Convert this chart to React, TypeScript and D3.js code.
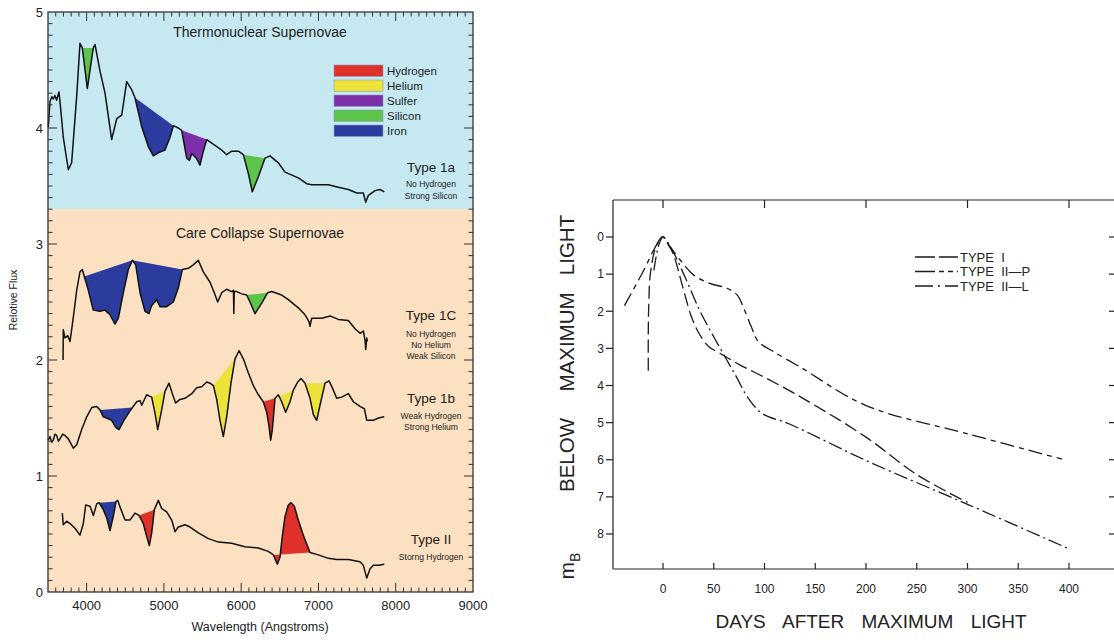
import React from 'react';
import * as d3 from 'd3';

// ---------- Left chart data ----------
const wavelengthTicks = [4000, 5000, 6000, 7000, 8000, 9000];
const fluxTicks = [0, 1, 2, 3, 4, 5];
const elements = ['Hydrogen', 'Helium', 'Sulfer', 'Silicon', 'Iron'];
const elementColors = ['#e0302a', '#ece23a', '#7b2fa8', '#5cc44a', '#2c3c9e'];

const type1a: [number, number][] = [
  [3504, 4.01], [3526, 4.23], [3550, 4.27], [3569, 4.25], [3590, 4.28], [3612, 4.24], [3642, 4.31], [3655, 4.23],
  [3698, 3.92], [3763, 3.64], [3806, 3.70], [3871, 4.27], [3914, 4.73], [3944, 4.69], [4009, 4.34], [4086, 4.69],
  [4108, 4.72], [4173, 4.49], [4238, 4.30], [4324, 3.90], [4389, 4.08], [4454, 4.11], [4518, 4.40], [4583, 4.33],
  [4626, 4.26], [4713, 4.01], [4798, 3.84], [4863, 3.76], [4940, 3.79], [5014, 3.81], [5079, 3.92], [5122, 4.02],
  [5186, 4.00], [5230, 3.98], [5295, 3.74], [5330, 3.72], [5360, 3.78], [5420, 3.74], [5467, 3.68], [5510, 3.80],
  [5554, 3.90], [5661, 3.85], [5748, 3.81], [5812, 3.77], [5877, 3.80], [5963, 3.80], [6028, 3.77], [6092, 3.61],
  [6144, 3.45], [6222, 3.58], [6308, 3.74], [6373, 3.76], [6481, 3.70], [6567, 3.62], [6739, 3.57], [6848, 3.52],
  [6913, 3.51], [7128, 3.51], [7257, 3.49], [7387, 3.47], [7495, 3.44], [7581, 3.44], [7612, 3.36], [7646, 3.42],
  [7732, 3.46], [7797, 3.47], [7852, 3.45],
];

const type1c: [number, number][] = [
  [3695, 2.00], [3698, 2.26], [3720, 2.19], [3755, 2.21], [3785, 2.16], [3828, 2.37], [3871, 2.60], [3914, 2.76],
  [3944, 2.78], [3970, 2.72], [4022, 2.60], [4086, 2.43], [4173, 2.42], [4238, 2.43], [4302, 2.39], [4367, 2.31],
  [4410, 2.36], [4475, 2.58], [4540, 2.78], [4592, 2.86], [4635, 2.82], [4691, 2.58], [4755, 2.42], [4807, 2.40],
  [4842, 2.47], [4906, 2.52], [4949, 2.46], [5036, 2.46], [5122, 2.50], [5186, 2.62], [5238, 2.78], [5316, 2.79],
  [5380, 2.82], [5445, 2.86], [5510, 2.76], [5597, 2.67], [5652, 2.58], [5696, 2.50], [5748, 2.58], [5812, 2.61],
  [5877, 2.59], [5900, 2.60], [5905, 2.40], [5910, 2.59], [5942, 2.59], [6007, 2.57], [6071, 2.56], [6114, 2.50],
  [6179, 2.40], [6266, 2.49], [6343, 2.58], [6395, 2.59], [6524, 2.56], [6610, 2.52], [6739, 2.45], [6826, 2.39],
  [6878, 2.33], [6890, 2.29], [6913, 2.36], [7042, 2.36], [7150, 2.38], [7257, 2.35], [7387, 2.34], [7473, 2.27],
  [7538, 2.23], [7581, 2.25], [7603, 2.17], [7612, 2.09], [7625, 2.19], [7633, 2.16],
];

const type1b: [number, number][] = [
  [3500, 1.31], [3526, 1.34], [3547, 1.29], [3569, 1.31], [3590, 1.36], [3612, 1.35], [3635, 1.30], [3655, 1.32],
  [3690, 1.36], [3720, 1.35], [3763, 1.32], [3828, 1.24], [3871, 1.27], [3936, 1.40], [4001, 1.51], [4066, 1.59],
  [4130, 1.60], [4173, 1.57], [4216, 1.51], [4259, 1.50], [4324, 1.48], [4376, 1.42], [4419, 1.40], [4475, 1.47],
  [4540, 1.54], [4592, 1.59], [4648, 1.64], [4691, 1.65], [4713, 1.61], [4777, 1.70], [4842, 1.68], [4885, 1.54],
  [4920, 1.40], [4971, 1.57], [5014, 1.73], [5066, 1.80], [5109, 1.71], [5152, 1.63], [5208, 1.66], [5273, 1.67],
  [5360, 1.71], [5424, 1.76], [5489, 1.77], [5554, 1.81], [5597, 1.80], [5640, 1.78], [5683, 1.66], [5726, 1.48],
  [5769, 1.34], [5812, 1.51], [5868, 1.80], [5920, 2.01], [5972, 2.08], [6028, 2.01], [6092, 1.89], [6157, 1.78],
  [6222, 1.70], [6286, 1.64], [6330, 1.55], [6360, 1.43], [6382, 1.31], [6403, 1.40], [6438, 1.67], [6481, 1.70],
  [6524, 1.64], [6576, 1.55], [6632, 1.64], [6675, 1.74], [6731, 1.81], [6774, 1.84], [6826, 1.80], [6891, 1.67],
  [6934, 1.53], [6977, 1.48], [7020, 1.61], [7085, 1.80], [7137, 1.82], [7180, 1.76], [7236, 1.67], [7300, 1.68],
  [7387, 1.71], [7452, 1.64], [7538, 1.60], [7594, 1.58], [7625, 1.48], [7711, 1.48], [7775, 1.50], [7852, 1.51],
];

const type2: [number, number][] = [
  [3685, 0.68], [3698, 0.58], [3741, 0.61], [3785, 0.59], [3849, 0.55], [3914, 0.49], [3957, 0.59], [3988, 0.75],
  [4044, 0.74], [4087, 0.66], [4130, 0.76], [4160, 0.77], [4216, 0.71], [4259, 0.64], [4302, 0.53], [4345, 0.65],
  [4380, 0.78], [4402, 0.79], [4445, 0.71], [4497, 0.62], [4561, 0.62], [4626, 0.68], [4678, 0.66], [4733, 0.59],
  [4777, 0.48], [4811, 0.40], [4842, 0.51], [4876, 0.71], [4928, 0.79], [4971, 0.72], [5036, 0.69], [5101, 0.62],
  [5144, 0.52], [5186, 0.56], [5273, 0.58], [5338, 0.56], [5446, 0.51], [5575, 0.46], [5704, 0.43], [5877, 0.42],
  [6049, 0.39], [6222, 0.38], [6351, 0.35], [6416, 0.32], [6468, 0.24], [6502, 0.30], [6532, 0.48], [6567, 0.65],
  [6610, 0.75], [6645, 0.77], [6688, 0.74], [6739, 0.62], [6804, 0.49], [6891, 0.34], [6998, 0.32], [7128, 0.29],
  [7236, 0.28], [7387, 0.28], [7538, 0.26], [7581, 0.23], [7625, 0.12], [7668, 0.20], [7711, 0.23], [7775, 0.23],
  [7852, 0.24],
];

// [from, to, element]
const type1aFeatures: [number, number, string][] = [[3944, 4086, 'Silicon'], [4626, 5122, 'Iron'], [5230, 5554, 'Sulfer'], [6028, 6308, 'Silicon']];
const type1cFeatures: [number, number, string][] = [[3970, 4592, 'Iron'], [4592, 5238, 'Iron'], [6071, 6343, 'Silicon']];
const type1bFeatures: [number, number, string][] = [[4173, 4592, 'Iron'], [4842, 5014, 'Helium'], [5640, 5920, 'Helium'], [6286, 6438, 'Hydrogen'], [6438, 6675, 'Helium'], [6826, 7085, 'Helium']];
const type2Features: [number, number, string][] = [[4160, 4380, 'Iron'], [4678, 4876, 'Hydrogen'], [6416, 6891, 'Hydrogen']];

const typeLabels = ['Type 1a', 'Type 1C', 'Type 1b', 'Type II'];
const typeNotes = [['No Hydrogen', 'Strong Silicon'], ['No Hydrogen', 'No Helium', 'Weak Silicon'], ['Weak Hydrogen', 'Strong Helium'], ['Storng Hydrogen']];

// ---------- Right chart data ----------
const dayTicks = [0, 50, 100, 150, 200, 250, 300, 350, 400];
const magTicks = [0, 1, 2, 3, 4, 5, 6, 7, 8];
const curveNames = ['TYPE  I', 'TYPE  II\u2014P', 'TYPE  II\u2014L'];
const yTitleWords = ['BELOW', 'MAXIMUM', 'LIGHT'];
const typeI: [number, number][] = [
  [-14.5, 3.6], [-14.5, 2.6], [-14, 1.8], [-12.5, 1.0], [-8, 0.35], [-3, 0.05], [0, 0], [5, 0.2], [10, 0.45], [20, 1.4],
  [28, 2.15], [36, 2.62], [45, 2.95], [56, 3.13], [76, 3.45], [100, 3.78], [135, 4.3], [200, 5.39], [250, 6.4], [300, 7.15],
];
const typeIIP: [number, number][] = [
  [-38, 1.85], [-20, 0.95], [-6, 0.2], [0, 0], [7, 0.26], [17, 0.62], [30, 1.02], [46, 1.25], [63, 1.38], [73, 1.56], [79, 1.88],
  [87, 2.42], [94, 2.82], [109, 3.09], [135, 3.5], [200, 4.54], [300, 5.3], [393, 5.98],
];
const typeIIL: [number, number][] = [
  [-9, 0.9], [-4, 0.2], [0, 0], [9, 0.35], [23, 1.16], [36, 1.97], [50, 2.69], [63, 3.32], [73, 3.8], [83, 4.3], [98, 4.76],
  [124, 5.03], [200, 6.02], [300, 7.2], [400, 8.4],
];
const curves = [typeI, typeIIP, typeIIL];
const curveDash = ['13,5', '14,5,5,5', '14,4,2,4'];
const legendDash = ['20,4,20', '20,4,5,4,5,4', '18,5,2,5,16'];

export default function App() {
  // left scales
  const x = d3.scaleLinear().domain([3500, 9000]).range([48, 473]);
  const y = d3.scaleLinear().domain([0, 5]).range([592, 12]);
  const yBand = y(3.3);
  const line = d3.line<[number, number]>().x(d => x(d[0])).y(d => y(d[1]));
  const font = 'Liberation Sans, Arial, sans-serif';

  const featurePath = (spec: [number, number][], f: [number, number, string]) => {
    const pts = spec.filter(p => p[0] >= f[0] && p[0] <= f[1]);
    return (line(pts) || '') + 'Z';
  };
  const colorOf = (el: string) => elementColors[elements.indexOf(el)];
  const spectra: [[number, number][], [number, number, string][]][] = [
    [type1a, type1aFeatures], [type1c, type1cFeatures], [type1b, type1bFeatures], [type2, type2Features],
  ];

  const minorW = d3.range(3600, 9000, 100);
  const minorF = d3.range(1, 50).map(v => v / 10);

  // right scales
  const xr = d3.scaleLinear().domain([0, 400]).range([663, 1069]);
  const yr = d3.scaleLinear().domain([0, 8]).range([237, 534]);
  const fL = 613, fR = 1117, fT = 200, fB = 569;
  const rline = d3.line<[number, number]>().x(d => xr(d[0])).y(d => yr(d[1])).curve(d3.curveCatmullRom.alpha(0.5));

  const labelY = [[172, 187, 199], [320, 336.5, 347.5, 358.5], [402.5, 419, 430], [544, 559.5]];
  const yTitleCenters = [455, 342, 245];

  return (
    <svg width={1114} height={640} style={{ position: 'absolute', left: 0, top: 0, background: '#fff' }} fontFamily={font}>
      {/* ---------------- LEFT CHART ---------------- */}
      <rect x={48} y={12} width={425} height={yBand - 12} fill="#c6e8f1" />
      <rect x={48} y={yBand} width={425} height={592 - yBand} fill="#fbe0c1" />

      {spectra.map(([spec, feats], i) => (
        <g key={'s' + i}>
          {feats.map((f, j) => (
            <path key={j} d={featurePath(spec, f)} fill={colorOf(f[2])} stroke="none" />
          ))}
          <path d={line(spec) || ''} fill="none" stroke="#111" strokeWidth={1.5} strokeLinejoin="round" />
        </g>
      ))}

      {/* ticks */}
      <g stroke="#333" strokeWidth={1}>
        {minorW.map(w => {
          const major = w % 1000 === 0;
          const l = major ? 9 : 4.5;
          return (
            <g key={'w' + w}>
              <line x1={x(w)} x2={x(w)} y1={12} y2={12 + l} />
              <line x1={x(w)} x2={x(w)} y1={592} y2={592 - l} />
            </g>
          );
        })}
        {minorF.map(v => {
          const major = Math.abs(v - Math.round(v)) < 1e-6;
          const l = major ? 9 : 4.5;
          return (
            <g key={'f' + v}>
              <line x1={48} x2={48 + l} y1={y(v)} y2={y(v)} />
              <line x1={473} x2={473 - l} y1={y(v)} y2={y(v)} />
            </g>
          );
        })}
      </g>
      <rect x={48} y={12} width={425} height={580} fill="none" stroke="#333" strokeWidth={1.3} />

      {fluxTicks.map(v => (
        <text key={'fl' + v} x={43} y={y(v)} dy="0.36em" textAnchor="end" fontSize={13} fill="#222">{v}</text>
      ))}
      {wavelengthTicks.map(v => (
        <text key={'wl' + v} x={x(v)} y={610} textAnchor="middle" fontSize={13} fill="#222">{v}</text>
      ))}
      <text x={260} y={631} textAnchor="middle" fontSize={12.5} fill="#222">Wavelength (Angstroms)</text>
      <text transform="translate(17,300) rotate(-90)" textAnchor="middle" fontSize={10.5} fill="#222">Relotive Flux</text>

      <text x={260} y={37} textAnchor="middle" fontSize={14} fill="#222">Thermonuclear Supernovae</text>
      <text x={260} y={238} textAnchor="middle" fontSize={14} fill="#222">Care Collapse Supernovae</text>

      {elements.map((el, i) => (
        <g key={'lg' + el}>
          <rect x={334} y={65 + i * 15} width={49} height={11.5} fill={elementColors[i]} stroke="#8a9cc4" strokeWidth={0.6} />
          <text x={387} y={65 + i * 15 + 10} fontSize={11.5} fill="#222">{el}</text>
        </g>
      ))}

      {typeLabels.map((t, i) => (
        <g key={'tl' + i}>
          <text x={431} y={labelY[i][0]} textAnchor="middle" fontSize={13.5} fill="#222">{t}</text>
          {typeNotes[i].map((n, j) => (
            <text key={j} x={431} y={labelY[i][j + 1]} textAnchor="middle" fontSize={8.5} fill="#222">{n}</text>
          ))}
        </g>
      ))}

      {/* ---------------- RIGHT CHART ---------------- */}
      <g stroke="#222" strokeWidth={1.2} fill="none">
        <line x1={fL} x2={fR} y1={fT} y2={fT} />
        <line x1={fL} x2={fR} y1={fB} y2={fB} />
        <line x1={fL} x2={fL} y1={fT} y2={fB} />
        <line x1={fR} x2={fR} y1={fT} y2={fB} />
        {magTicks.map(m => (
          <g key={'mt' + m}>
            <line x1={fL - 7} x2={fL} y1={yr(m)} y2={yr(m)} />
            <line x1={fR - 8} x2={fR} y1={yr(m)} y2={yr(m)} />
          </g>
        ))}
        {dayTicks.map(d => (
          <g key={'dt' + d}>
            {d % 100 === 0 && <line x1={xr(d)} x2={xr(d)} y1={fT} y2={fT + 8} />}
            <line x1={xr(d)} x2={xr(d)} y1={fB} y2={fB - 6} />
          </g>
        ))}
      </g>
      {magTicks.map(m => (
        <text key={'ml' + m} x={604} y={yr(m)} dy="0.36em" textAnchor="end" fontSize={12} fill="#222">{m}</text>
      ))}
      {dayTicks.map(d => (
        <text key={'dl' + d} x={xr(d)} y={593} textAnchor="middle" fontSize={12} fill="#222">{d}</text>
      ))}

      {curves.map((c, i) => (
        <path key={'c' + i} d={rline(c) || ''} fill="none" stroke="#1a1a1a" strokeWidth={1.3} strokeDasharray={curveDash[i]} />
      ))}

      {curveNames.map((n, i) => (
        <g key={'cl' + i}>
          <line x1={915} x2={958} y1={257 + i * 14.5} y2={257 + i * 14.5} stroke="#1a1a1a" strokeWidth={1.3} strokeDasharray={legendDash[i]} />
          <text x={960} y={257 + i * 14.5} dy="0.36em" fontSize={13} fill="#222" style={{ whiteSpace: 'pre' }}>{n}</text>
        </g>
      ))}

      <text x={871} y={628} textAnchor="middle" fontSize={19} fill="#222" wordSpacing={12} style={{ whiteSpace: 'pre' }}>DAYS AFTER MAXIMUM LIGHT</text>
      <text transform="translate(574,566) rotate(-90)" textAnchor="middle" fontSize={21} fill="#222">
        m<tspan fontSize={14} dy={6}>B</tspan>
      </text>
      {yTitleWords.map((w, i) => (
        <text key={'yt' + w} transform={`translate(574,${yTitleCenters[i]}) rotate(-90)`} textAnchor="middle" fontSize={20.5} fill="#222">{w}</text>
      ))}
    </svg>
  );
}
